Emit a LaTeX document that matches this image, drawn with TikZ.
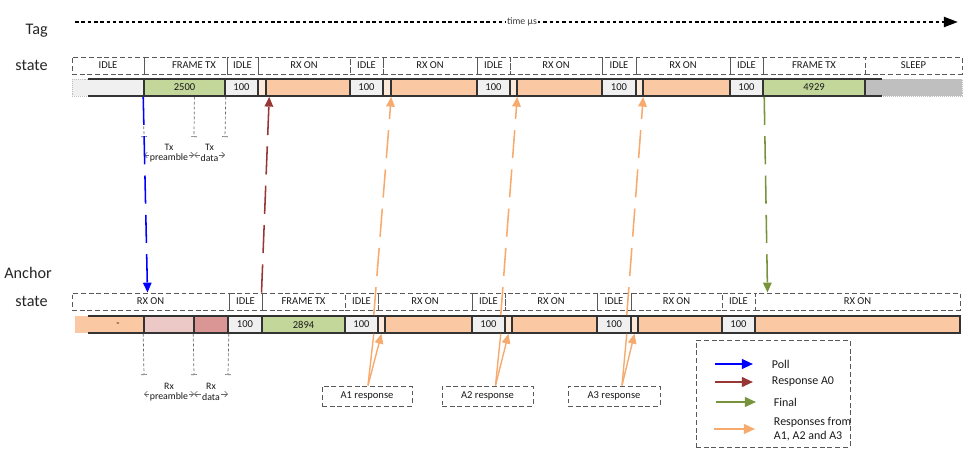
\documentclass[tikz,border=0pt]{standalone}
\usepackage{fontspec}
\setmainfont{Carlito}
\usepackage{tikz}
\usetikzlibrary{arrows.meta, positioning, fit, calc}

\definecolor{framegreen}{RGB}{196,215,155}
\definecolor{rxpeach}{RGB}{250,200,162}
\definecolor{rxlight}{RGB}{253,233,217}
\definecolor{idlegray}{RGB}{240,240,240}
\definecolor{sleepgray}{RGB}{191,191,191}
\definecolor{preambpink}{RGB}{236,200,199}
\definecolor{datarose}{RGB}{218,150,148}
\definecolor{pollblue}{RGB}{0,0,255}
\definecolor{respbrown}{RGB}{150,55,53}
\definecolor{finalgreen}{RGB}{119,147,60}
\definecolor{resporange}{RGB}{247,170,110}

\tikzset{
  statebox/.style={draw=black!65, dash pattern=on 3.5pt off 2pt, line width=0.7pt, inner sep=0pt},
  seg/.style={draw=black!80, line width=1.1pt, inner sep=0pt},
  lbl/.style={font=\fontsize{7.5}{8}\selectfont, text=black!90},
  sidetxt/.style={font=\fontsize{11.5}{14}\selectfont, anchor=east, inner sep=0pt, text=black!85},
  longarr/.style={line width=1.1pt, dash pattern=on 20pt off 8pt, -{Triangle[length=7pt,width=6pt]}},
  shortarr/.style={line width=1pt, -{Triangle[length=7pt,width=6pt]}},
  lgarr/.style={line width=1.4pt, -{Triangle[length=8pt,width=7pt]}},
  dimline/.style={draw=black!60, line width=0.5pt, dash pattern=on 2pt off 1.5pt, -{Bar[width=4pt]}},
  dimarr/.style={draw=black!60, line width=0.5pt, {Straight Barb[length=2pt]}-{Straight Barb[length=2pt]}},
  dimtxt/.style={font=\fontsize{7}{7.5}\selectfont, text=black!90, align=center, inner sep=0.5pt, fill=white},
  lgtxt/.style={font=\fontsize{8.5}{10}\selectfont, text=black!90, anchor=west, align=left},
  timeaxis/.style={line width=1.8pt, dash pattern=on 2.5pt off 2pt, -{Triangle[length=10pt,width=7pt]}},
}

\begin{document}
\begin{tikzpicture}[x=0.025cm, y=-0.025cm]
\useasboundingbox (0,0) rectangle (975,460);

% Time axis
\coordinate (taxis0) at (75,22);
\coordinate (taxis1) at (958,22);
\draw[timeaxis] (taxis0) -- (taxis1);
\node[font=\fontsize{7}{8}\selectfont, fill=white, inner sep=1pt, text=black!75] (tlabel) at (522,22) {time µs};

% Tag
\node[sidetxt] (tagtxt) at (48,31) {Tag};
\node[sidetxt] (tagstate) at (48,65) {state};

\node[statebox, fit={(72,57)(144,74)}, label={[lbl]center:IDLE}] (ts1) {};
\node[statebox, fit={(144,57)(227,74)}, label={[lbl,xshift=6pt]center:FRAME TX}] (ts2) {};
\node[statebox, fit={(227,57)(258,74)}, label={[lbl]center:IDLE}] (ts3) {};
\node[statebox, fit={(258,57)(350,74)}, label={[lbl]center:RX ON}] (ts4) {};
\node[statebox, fit={(350,57)(383,74)}, label={[lbl]center:IDLE}] (ts5) {};
\node[statebox, fit={(383,57)(477,74)}, label={[lbl]center:RX ON}] (ts6) {};
\node[statebox, fit={(477,57)(510,74)}, label={[lbl]center:IDLE}] (ts7) {};
\node[statebox, fit={(510,57)(602,74)}, label={[lbl]center:RX ON}] (ts8) {};
\node[statebox, fit={(602,57)(636,74)}, label={[lbl]center:IDLE}] (ts9) {};
\node[statebox, fit={(636,57)(730,74)}, label={[lbl]center:RX ON}] (ts10) {};
\node[statebox, fit={(730,57)(763,74)}, label={[lbl]center:IDLE}] (ts11) {};
\node[statebox, fit={(763,57)(865,74)}, label={[lbl]center:FRAME TX}] (ts12) {};
\node[statebox, fit={(865,57)(962,74)}, label={[lbl]center:SLEEP}] (ts13) {};

\fill[idlegray] (72,79) rectangle (144,96);
\draw[black!25, densely dotted] (88,79) -- (72,79) -- (72,96) -- (88,96);
\draw[black!80, line width=1.1pt] (88,79) -- (144,79) (88,96) -- (144,96);
\node[seg, fill=framegreen, fit={(144,79)(225,96)}, label={[lbl]center:2500}] (t2) {};
\node[seg, fill=idlegray, fit={(225,79)(258,96)}, label={[lbl]center:100}] (t3) {};
\node[seg, fill=rxlight, fit={(258,79)(266,96)}] (t4) {};
\node[seg, fill=rxpeach, fit={(266,79)(350,96)}] (t5) {};
\node[seg, fill=idlegray, fit={(350,79)(383,96)}, label={[lbl]center:100}] (t6) {};
\node[seg, fill=rxlight, fit={(383,79)(391,96)}] (t7) {};
\node[seg, fill=rxpeach, fit={(391,79)(477,96)}] (t8) {};
\node[seg, fill=idlegray, fit={(477,79)(510,96)}, label={[lbl]center:100}] (t9) {};
\node[seg, fill=rxlight, fit={(510,79)(517,96)}] (t10) {};
\node[seg, fill=rxpeach, fit={(517,79)(602,96)}] (t11) {};
\node[seg, fill=idlegray, fit={(602,79)(636,96)}, label={[lbl]center:100}] (t12) {};
\node[seg, fill=rxlight, fit={(636,79)(643,96)}] (t13) {};
\node[seg, fill=rxpeach, fit={(643,79)(730,96)}] (t14) {};
\node[seg, fill=idlegray, fit={(730,79)(763,96)}, label={[lbl]center:100}] (t15) {};
\fill[sleepgray] (865,79) rectangle (962,96);
\draw[black!25, densely dotted] (882,79) -- (962,79) -- (962,96) -- (882,96);
\draw[black!80, line width=1.1pt] (865,79) -- (882,79) (865,96) -- (882,96);
\node[seg, fill=framegreen, fit={(763,79)(865,96)}, label={[lbl]center:4929}] (t16) {};

% Tx preamble / data
\coordinate (tx1) at (144,137);
\coordinate (tx2) at (194,137);
\coordinate (tx3) at (225,137);
\draw[dimline] (t2.south west) -- (tx1);
\draw[dimline] ($(t2.south west)!0.62!(t2.south east)$) -- (tx2);
\draw[dimline] (t2.south east) -- (tx3);
\draw[dimarr] ($(tx1)+(0,18)$) -- ($(tx2)+(0,18)$);
\draw[dimarr] ($(tx2)+(0,18)$) -- ($(tx3)+(0,18)$);
\node[dimtxt] (txpre) at ($(tx1)!0.5!(tx2)+(0,16)$) {Tx\\preamble};
\node[dimtxt] (txdat) at ($(tx2)!0.5!(tx3)+(0,16)$) {Tx\\data};

% Anchor
\node[sidetxt] (anctxt) at (52,273) {Anchor};
\node[sidetxt] (ancstate) at (48,301) {state};

\node[statebox, fit={(72,293)(229,310)}, label={[lbl]center:RX ON}] (as1) {};
\node[statebox, fit={(229,293)(262,310)}, label={[lbl]center:IDLE}] (as2) {};
\node[statebox, fit={(262,293)(345,310)}, label={[lbl]center:FRAME TX}] (as3) {};
\node[statebox, fit={(345,293)(378,310)}, label={[lbl]center:IDLE}] (as4) {};
\node[statebox, fit={(378,293)(472,310)}, label={[lbl]center:RX ON}] (as5) {};
\node[statebox, fit={(472,293)(505,310)}, label={[lbl]center:IDLE}] (as6) {};
\node[statebox, fit={(505,293)(597,310)}, label={[lbl]center:RX ON}] (as7) {};
\node[statebox, fit={(597,293)(631,310)}, label={[lbl]center:IDLE}] (as8) {};
\node[statebox, fit={(631,293)(722,310)}, label={[lbl]center:RX ON}] (as9) {};
\node[statebox, fit={(722,293)(755,310)}, label={[lbl]center:IDLE}] (as10) {};
\node[statebox, fit={(755,293)(960,310)}, label={[lbl]center:RX ON}] (as11) {};

\fill[rxpeach] (75,316) rectangle (144,333);
\draw[black!80, line width=1.1pt] (88,316) -- (144,316) (88,333) -- (144,333);
\node[lbl] (a1) at (118,324.5) {-};
\node[seg, fill=preambpink, fit={(144,316)(194,333)}] (a2) {};
\node[seg, fill=datarose, fit={(194,316)(228,333)}] (a3) {};
\node[seg, fill=idlegray, fit={(228,316)(262,333)}, label={[lbl]center:100}] (a4) {};
\node[seg, fill=framegreen, fit={(262,316)(345,333)}, label={[lbl]center:2894}] (a5) {};
\node[seg, fill=idlegray, fit={(345,316)(378,333)}, label={[lbl]center:100}] (a6) {};
\node[seg, fill=rxlight, fit={(378,316)(385,333)}] (a7) {};
\node[seg, fill=rxpeach, fit={(385,316)(472,333)}] (a8) {};
\node[seg, fill=idlegray, fit={(472,316)(505,333)}, label={[lbl]center:100}] (a9) {};
\node[seg, fill=rxlight, fit={(505,316)(512,333)}] (a10) {};
\node[seg, fill=rxpeach, fit={(512,316)(597,333)}] (a11) {};
\node[seg, fill=idlegray, fit={(597,316)(631,333)}, label={[lbl]center:100}] (a12) {};
\node[seg, fill=rxlight, fit={(631,316)(638,333)}] (a13) {};
\node[seg, fill=rxpeach, fit={(638,316)(722,333)}] (a14) {};
\node[seg, fill=idlegray, fit={(722,316)(755,333)}, label={[lbl]center:100}] (a15) {};
\node[seg, fill=rxpeach, fit={(755,316)(960,333)}] (a16) {};

% Rx preamble / data
\coordinate (rx1) at (144,375);
\coordinate (rx2) at (194,375);
\coordinate (rx3) at (228,375);
\draw[dimline] (a2.south west) -- (rx1);
\draw[dimline] (a3.south west) -- (rx2);
\draw[dimline] (a3.south east) -- (rx3);
\draw[dimarr] ($(rx1)+(0,19)$) -- ($(rx2)+(0,19)$);
\draw[dimarr] ($(rx2)+(0,19)$) -- ($(rx3)+(0,19)$);
\node[dimtxt] (rxpre) at ($(rx1)!0.5!(rx2)+(0,17)$) {Rx\\preamble};
\node[dimtxt] (rxdat) at ($(rx2)!0.5!(rx3)+(0,17)$) {Rx\\data};

% Responses
\node[statebox, fit={(322,386)(412,406)}, label={[lbl]center:A1 response}] (r1) {};
\node[statebox, fit={(442,386)(533,406)}, label={[lbl]center:A2 response}] (r2) {};
\node[statebox, fit={(568,386)(660,406)}, label={[lbl]center:A3 response}] (r3) {};

% Messages
\draw[longarr, pollblue] (t2.south west) -- ($(as1.north)+(-3,0)$);
\draw[longarr, respbrown] (as3.north west) -- ($(t5.south west)+(4,0)$);
\draw[longarr, finalgreen] ($(t16.south west)+(2,0)$) -- ($(as11.north west)+(13,0)$);

\draw[shortarr, resporange] ($(r1.north)+(1,0)$) -- (a7.south);
\draw[resporange, line width=1pt] ($(r1.north)+(1,0)$) -- ($(a6.south east)+(-5,0)$);
\draw[longarr, resporange] ($(a6.north east)+(-5,0)$) -- ($(t8.south west)+(1,0)$);

\draw[shortarr, resporange] ($(r2.north)+(8,0)$) -- (a10.south);
\draw[resporange, line width=1pt] ($(r2.north)+(8,0)$) -- ($(a9.south east)+(-5,0)$);
\draw[longarr, resporange] ($(a9.north east)+(-5,0)$) -- ($(t11.south west)+(1,0)$);

\draw[shortarr, resporange] ($(r3.north)+(8,0)$) -- (a13.south);
\draw[resporange, line width=1pt] ($(r3.north)+(8,0)$) -- ($(a12.south east)+(-5,0)$);
\draw[longarr, resporange] ($(a12.north east)+(-5,0)$) -- ($(t14.south west)+(1,0)$);

% Legend
\node[statebox, fit={(696,340)(850,447)}] (legend) {};
\node[lgtxt] (lpoll) at (767,364) {Poll};
\node[lgtxt] (lresp) at (767,382) {Response A0};
\node[lgtxt] (lfinal) at (769,402) {Final};
\node[lgtxt] (lresps) at (769,429) {Responses from\\A1, A2 and A3};
\draw[lgarr, pollblue] ($(lpoll.west)+(-52,0)$) -- ($(lpoll.west)+(-14,0)$);
\draw[lgarr, respbrown] ($(lresp.west)+(-52,0)$) -- ($(lresp.west)+(-14,0)$);
\draw[lgarr, finalgreen] ($(lfinal.west)+(-53,0)$) -- ($(lfinal.west)+(-13,0)$);
\draw[lgarr, resporange] ($(lresps.west)+(-55,0)$) -- ($(lresps.west)+(-14,0)$);

\end{tikzpicture}
\end{document}
